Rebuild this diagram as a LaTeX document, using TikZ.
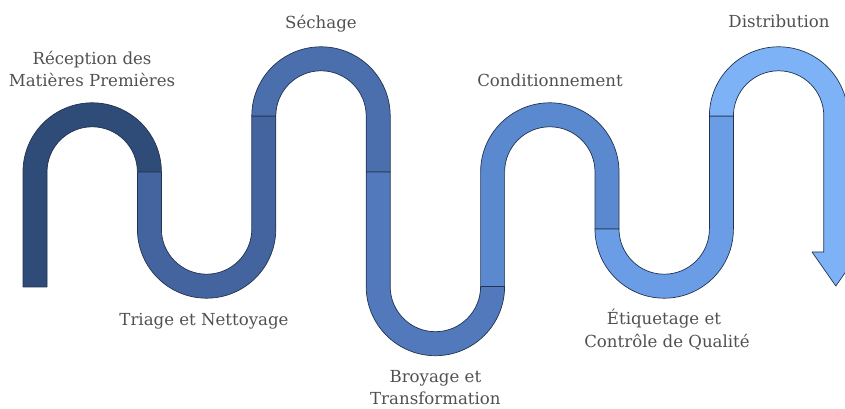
\documentclass[tikz,border=0pt]{standalone}
\usepackage{fontspec}
\setmainfont{DejaVu Serif}
\definecolor{cA}{HTML}{2F4B77}
\definecolor{cB}{HTML}{43649F}
\definecolor{cC}{HTML}{4A6FAC}
\definecolor{cD}{HTML}{5279BC}
\definecolor{cE}{HTML}{5B89D0}
\definecolor{cF}{HTML}{6B9DE7}
\definecolor{cG}{HTML}{7EB2F7}
\definecolor{bandline}{HTML}{22334F}
\definecolor{lblgrey}{HTML}{505050}
\newcommand{\archseg}[5]{%
  \path[band, fill=#1] ({#2-12},#3) -- ({#2-12},#4) arc[start angle=180,end angle=0,radius=69.2]
    -- ({#2+126.4},#5) -- ({#2+102.4},#5) -- ({#2+102.4},#4) arc[start angle=0,end angle=180,radius=45.2]
    -- ({#2+12},#3) -- cycle;}
\newcommand{\useg}[5]{%
  \path[band, fill=#1] ({#2-12},#3) -- ({#2-12},#4) arc[start angle=180,end angle=360,radius=69.2]
    -- ({#2+126.4},#5) -- ({#2+102.4},#5) -- ({#2+102.4},#4) arc[start angle=360,end angle=180,radius=45.2]
    -- ({#2+12},#3) -- cycle;}
\begin{document}
\begin{tikzpicture}[x=1pt,y=1pt,
  band/.style={draw=bandline, line width=0.7pt, line join=round},
  lbl/.style={text=lblgrey, font=\fontsize{16.6}{20}\selectfont, anchor=base, inner sep=0pt}]
\useasboundingbox (0,0) rectangle (845,409);
\clip (0,0) rectangle (845,409);
% band segments
\archseg{cA}{35}{122}{237}{237}
\useg{cB}{149.4}{237}{180}{293}
\archseg{cC}{263.8}{293}{293}{237}
\useg{cD}{378.2}{237}{122.5}{122.5}
\archseg{cE}{492.6}{122.5}{237}{180}
\useg{cF}{607}{180}{180}{293}
\path[band, fill=cG] (709.4,293) arc[start angle=180,end angle=0,radius=69.2]
  -- (847.8,157) -- (859.6,157) -- (835.8,123) -- (812,157) -- (823.8,157)
  -- (823.8,293) arc[start angle=0,end angle=180,radius=45.2] -- (733.4,293) -- cycle;
% labels
\node[lbl] (t1a) at (92,344) {Réception des};
\node[lbl] (t1b) at (92,322) {Matières Premières};
\node[lbl] (t2) at (204,83) {Triage et Nettoyage};
\node[lbl] (t3) at (321,380) {Séchage};
\node[lbl] (t4a) at (435.4,26) {Broyage et};
\node[lbl] (t4b) at (435.4,4) {Transformation};
\node[lbl] (t5) at (550,322) {Conditionnement};
\node[lbl] (t6a) at (664,84) {Étiquetage et};
\node[lbl] (t6b) at (667,61) {Contrôle de Qualité};
\node[lbl] (t7) at (779,381) {Distribution};
\end{tikzpicture}
\end{document}
